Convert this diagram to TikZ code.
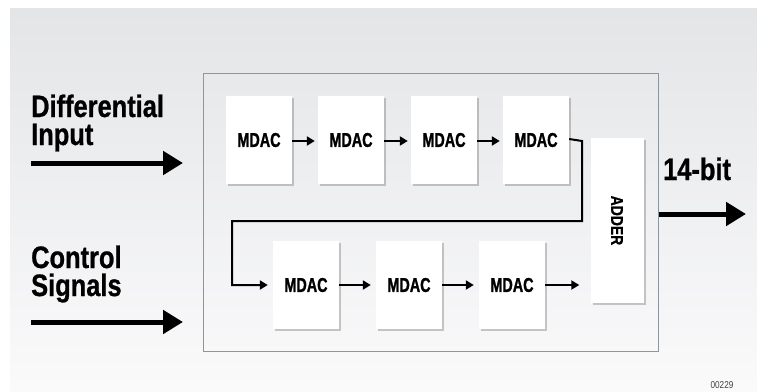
\documentclass[tikz,border=0pt]{standalone}
\usepackage{fontspec}
\setmainfont{Liberation Sans}[FakeStretch=0.82,BoldFeatures={FakeBold=0.8}]
\newfontfamily\condfont{Liberation Sans}[FakeStretch=0.72,BoldFeatures={FakeBold=1.2}]
\usetikzlibrary{arrows.meta,shadows}
\definecolor{bgtop}{HTML}{E4E5E7}
\definecolor{bgbot}{HTML}{FAFAFB}
\definecolor{framecol}{HTML}{8C969E}
\begin{document}
\begin{tikzpicture}[x=1pt,y=-1pt,
  blk/.style={fill=white,draw=none,inner sep=0pt,
    drop shadow={shadow xshift=2pt,shadow yshift=-2pt,opacity=0.35,fill=black!60}},
  mdac/.style={blk,minimum width=66pt,minimum height=88pt,font=\condfont\bfseries\fontsize{20}{22}\selectfont},
  lbl/.style={font=\bfseries\fontsize{31}{27}\selectfont,inner sep=0pt,anchor=base west,text height=22pt,text depth=0pt},
  thin/.style={line width=2pt,-{Triangle[length=8pt,width=9pt]}},
  thick/.style={line width=5pt,-{Triangle[length=20pt,width=23pt]}}]
\useasboundingbox (0,0) rectangle (757,391);
\shade[top color=bgtop,bottom color=bgbot] (10,8) rectangle (757,391);
\node[draw=framecol,line width=0.8pt,minimum width=455pt,minimum height=278pt,inner sep=0pt,anchor=north west] (frame) at (203,73) {};
% top row
\node[mdac] (m1) at (259,140) {MDAC};
\node[mdac] (m2) at (351,140) {MDAC};
\node[mdac] (m3) at (444,140) {MDAC};
\node[mdac] (m4) at (536,140) {MDAC};
% bottom row
\node[mdac] (m5) at (306,285) {MDAC};
\node[mdac] (m6) at (409,285) {MDAC};
\node[mdac] (m7) at (512,285) {MDAC};
% adder
\node[blk,minimum width=53pt,minimum height=165pt] (add) at (617,220.5) {};
\node[rotate=-90,font=\bfseries\fontsize{17}{20}\selectfont] (addt) at (add.center) {ADDER};
% arrows top row
\draw[thin] ([yshift=-1pt]m1.east) -- ([yshift=-1pt,xshift=-3pt]m2.west);
\draw[thin] ([yshift=-1pt]m2.east) -- ([yshift=-1pt,xshift=-3pt]m3.west);
\draw[thin] ([yshift=-1pt]m3.east) -- ([yshift=-1pt,xshift=-3pt]m4.west);
% snake connector
\coordinate (c1) at (582,141);
\coordinate (c2) at (582,221);
\coordinate (c3) at (232,221);
\coordinate (c4) at (232,285);
\draw[thin] ([yshift=1pt]m4.east) -- (c1) -- (c2) -- (c3) -- (c4) -- ([xshift=-5pt]m5.west);
% arrows bottom row
\draw[thin] (m5.east) -- ([xshift=-5pt]m6.west);
\draw[thin] (m6.east) -- ([xshift=-5pt]m7.west);
\draw[thin,shorten >=11pt] (m7.east) -- (m7.east -| add.west);
% labels
\node[lbl] (dif) at (31,117) {Differential};
\node[lbl] (inp) at (31,145) {Input};
\node[lbl] (ctl) at (31,268) {Control};
\node[lbl] (sig) at (31,296) {Signals};
\node[lbl] (bit) at (663,180) {14-bit};
% big arrows
\coordinate (i1) at (31,163);
\coordinate (i2) at (31,322);
\draw[thick,shorten >=20pt] (i1) -- (i1 -| frame.west);
\draw[thick,shorten >=20pt] (i2) -- (i2 -| frame.west);
\coordinate (o1) at (746,214);
\draw[thick] (o1 -| frame.east) -- (o1);
\node[font=\fontsize{10}{12}\selectfont,text=black!75,inner sep=0pt] (num) at (722,385) {00229};
\end{tikzpicture}
\end{document}
